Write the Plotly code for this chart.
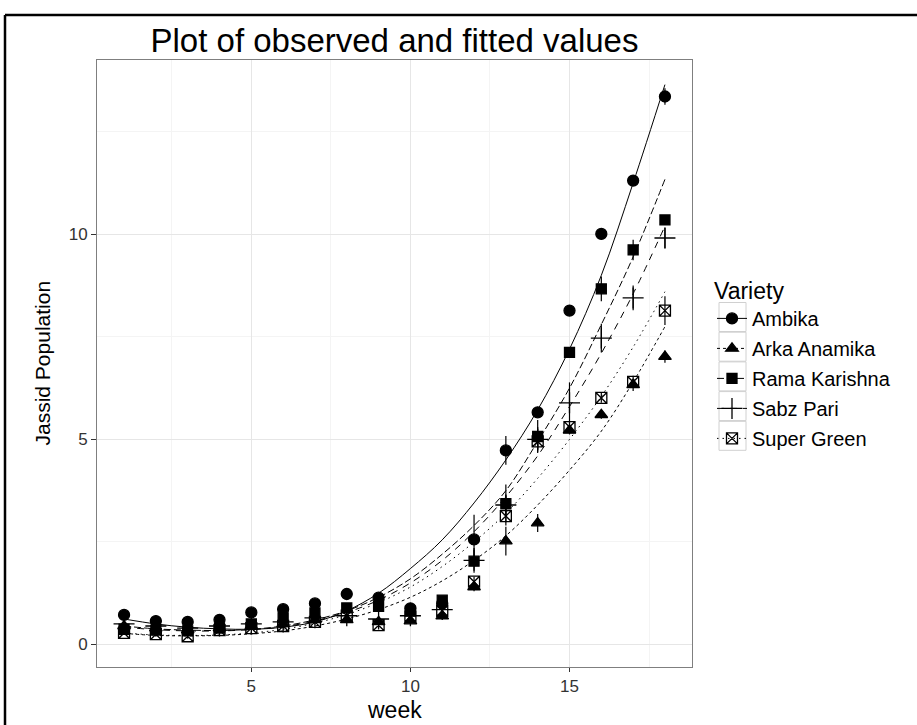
import plotly.graph_objects as go

weeks = list(range(1, 19))
varieties = ["Ambika", "Arka Anamika", "Rama Karishna", "Sabz Pari", "Super Green"]

# observed means
obs_ambika = [0.72, 0.57, 0.55, 0.60, 0.78, 0.86, 1.00, 1.23, 1.14, 0.88, 1.00, 2.56, 4.73, 5.66, 8.14, 10.01, 11.31, 13.36]
obs_arka = [0.45, 0.40, 0.35, 0.40, 0.45, 0.50, 0.60, 0.60, 0.55, 0.57, 0.69, 1.40, 2.52, 2.96, 5.22, 5.60, 6.33, 7.02]
obs_rama = [0.37, 0.35, 0.33, 0.40, 0.50, 0.65, 0.77, 0.89, 0.93, 0.81, 1.08, 2.03, 3.43, 5.07, 7.12, 8.67, 9.62, 10.35]
obs_sabz = [0.50, 0.45, 0.40, 0.45, 0.50, 0.55, 0.65, 0.70, 0.62, 0.70, 0.85, 2.05, 3.40, 5.00, 5.89, 7.47, 8.45, 9.91]
obs_super = [0.28, 0.25, 0.20, 0.35, 0.40, 0.45, 0.55, 0.70, 0.47, 0.68, 0.82, 1.53, 3.13, 4.95, 5.30, 6.01, 6.40, 8.14]

# standard errors (error bar half-lengths)
se_ambika = [0.06, 0.05, 0.05, 0.05, 0.06, 0.06, 0.07, 0.12, 0.08, 0.06, 0.08, 0.60, 0.35, 0.10, 0.10, 0.10, 0.12, 0.20]
se_arka = [0.05, 0.05, 0.05, 0.05, 0.05, 0.05, 0.06, 0.06, 0.06, 0.06, 0.06, 0.10, 0.35, 0.22, 0.10, 0.10, 0.15, 0.15]
se_rama = [0.05, 0.05, 0.05, 0.05, 0.06, 0.06, 0.07, 0.08, 0.08, 0.06, 0.08, 0.12, 0.20, 0.40, 0.10, 0.30, 0.25, 0.12]
se_sabz = [0.05, 0.05, 0.05, 0.05, 0.05, 0.06, 0.06, 0.08, 0.06, 0.06, 0.08, 0.30, 0.50, 0.30, 0.50, 0.35, 0.30, 0.25]
se_super = [0.05, 0.05, 0.05, 0.05, 0.05, 0.06, 0.06, 0.06, 0.06, 0.06, 0.08, 0.12, 0.15, 0.15, 0.12, 0.12, 0.15, 0.35]

# fitted values
fit_ambika = [0.62, 0.50, 0.42, 0.38, 0.37, 0.42, 0.55, 0.82, 1.25, 1.85, 2.55, 3.45, 4.50, 5.72, 7.20, 9.00, 11.25, 13.65]
fit_arka = [0.27, 0.22, 0.21, 0.22, 0.26, 0.33, 0.45, 0.62, 0.85, 1.15, 1.55, 2.05, 2.65, 3.40, 4.25, 5.20, 6.40, 7.75]
fit_rama = [0.45, 0.38, 0.35, 0.34, 0.37, 0.45, 0.60, 0.82, 1.15, 1.60, 2.20, 2.90, 3.75, 4.95, 6.25, 7.80, 9.45, 11.34]
fit_sabz = [0.42, 0.36, 0.33, 0.33, 0.36, 0.43, 0.57, 0.78, 1.08, 1.50, 2.05, 2.75, 3.60, 4.60, 5.80, 7.10, 8.55, 10.20]
fit_super = [0.28, 0.23, 0.22, 0.23, 0.28, 0.37, 0.52, 0.73, 1.02, 1.40, 1.90, 2.50, 3.20, 4.05, 5.00, 6.05, 7.25, 8.60]

x_ticks = [5, 10, 15]
y_ticks = [0, 5, 10]

observed = [obs_ambika, obs_arka, obs_rama, obs_sabz, obs_super]
errors = [se_ambika, se_arka, se_rama, se_sabz, se_super]
fitted = [fit_ambika, fit_arka, fit_rama, fit_sabz, fit_super]

dashes = ["solid", "3px,3px", "7px,3px", "7px,6px", "1.5px,4px"]
symbols = ["circle", "triangle-up", "square", "cross-thin-open", "square-x-open"]
sizes = [11, 11, 10, 15, 11]

FONT = "Liberation Sans, Arial, sans-serif"
fig = go.Figure()

for i, name in enumerate(varieties):
    fig.add_trace(go.Scatter(
        x=weeks, y=fitted[i], mode="lines", line=dict(color="black", width=1, dash=dashes[i], shape="spline"),
        showlegend=False, hoverinfo="skip"))
for i, name in enumerate(varieties):
    marker = dict(symbol=symbols[i], size=sizes[i], color="black", line=dict(color="black", width=1.3))
    fig.add_trace(go.Scatter(
        x=weeks, y=observed[i], mode="markers", marker=marker,
        error_y=dict(type="data", array=errors[i], color="black", thickness=1.2, width=0),
        showlegend=False, name=name))
for i, name in enumerate(varieties):
    marker = dict(symbol=symbols[i], size=sizes[i], color="black", line=dict(color="black", width=1.3))
    fig.add_trace(go.Scatter(
        x=[None], y=[None], mode="lines+markers", name=name, marker=marker,
        line=dict(color="black", width=1, dash=dashes[i]), legendgroup=name))

L, R, T, B = 97, 692, 60, 667
W, H = 917, 725
pw, ph = R - L, B - T

def px(xp):
    return (xp - L) / pw

def py(yp):
    return (B - yp) / ph

# legend key boxes (theme_bw style grey frames)
key_centers = [317 + 29.7 * k for k in range(5)]
key_boxes = [dict(type="rect", xref="paper", yref="paper", x0=px(719), x1=px(746),
                  y0=py(c + 14.5), y1=py(c - 14.5), line=dict(color="#d0d0d0", width=1),
                  fillcolor="rgba(0,0,0,0)", layer="below") for c in key_centers]

fig.update_layout(
    width=W, height=H,
    margin=dict(l=L, r=W - R, t=T, b=H - B),
    paper_bgcolor="white", plot_bgcolor="white",
    font=dict(family=FONT, color="black"),
    title=dict(text="Plot of observed and fitted values", x=0.5, xref="paper", xanchor="center",
               y=1 - 40 / H, yref="container", yanchor="middle", font=dict(size=33, color="black")),
    legend=dict(x=px(712), y=py(269), xanchor="left", yanchor="top",
                title=dict(text="Variety", font=dict(size=23)), font=dict(size=20),
                tracegroupgap=1, itemwidth=30, bgcolor="rgba(0,0,0,0)"),
    xaxis=dict(range=[0.15, 18.85], tickvals=x_ticks, ticks="outside", ticklen=4, tickcolor="#333333",
               tickfont=dict(size=17, color="#333333"), showline=True, linecolor="#7f7f7f", linewidth=1,
               mirror=True, showgrid=True, gridcolor="#e6e6e6", gridwidth=1, zeroline=False,
               minor=dict(dtick=2.5, tick0=0, showgrid=True, gridcolor="#f4f4f4", gridwidth=1)),
    yaxis=dict(range=[-0.55, 14.25], tickvals=y_ticks, ticks="outside", ticklen=5, tickcolor="#333333",
               tickfont=dict(size=17, color="#333333"), showline=True, linecolor="#7f7f7f", linewidth=1,
               mirror=True, showgrid=True, gridcolor="#e6e6e6", gridwidth=1, zeroline=False,
               minor=dict(dtick=2.5, tick0=0, showgrid=True, gridcolor="#f4f4f4", gridwidth=1)),
    annotations=[
        dict(text="week", x=0.5, y=py(710), xref="paper", yref="paper", showarrow=False,
             xanchor="center", yanchor="middle", font=dict(size=23, color="black")),
        dict(text="Jassid Population", x=px(42), y=0.5, xref="paper", yref="paper", showarrow=False,
             textangle=-90, xanchor="center", yanchor="middle", font=dict(size=21, color="black")),
    ],
    shapes=[
        dict(type="line", xref="paper", yref="paper", x0=px(5), x1=px(930), y0=py(15), y1=py(15),
             line=dict(color="black", width=2.5)),
        dict(type="line", xref="paper", yref="paper", x0=px(5), x1=px(5), y0=py(15), y1=py(740),
             line=dict(color="black", width=2.5)),
    ] + key_boxes,
)

fig.write_html("out.html", config={"displayModeBar": False},
               post_script="document.body.style.margin='0';document.body.style.overflow='hidden';")
